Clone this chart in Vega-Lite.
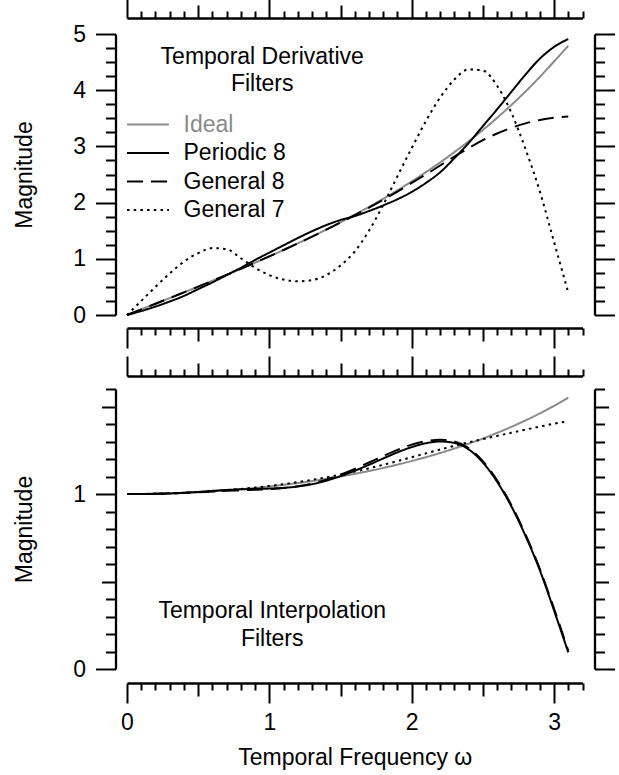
{
  "$schema": "https://vega.github.io/schema/vega-lite/v6.json",
  "background": "white",
  "padding": {"left": 13, "right": 5, "top": -3, "bottom": 5},
  "config": {
    "view": {"stroke": null},
    "font": "Liberation Sans",
    "axis": {
      "grid": false,
      "domainColor": "black", "domainWidth": 2.3,
      "tickColor": "black", "tickWidth": 2,
      "labelColor": "black", "labelFont": "Liberation Sans", "labelFontSize": 23,
      "labelFlush": false, "labelOverlap": false, "labelBound": false, "labelPadding": 8,
      "titleColor": "black", "titleFont": "Liberation Sans", "titleFontSize": 23, "titleFontWeight": "normal"
    }
  },
  "datasets": {
    "top": [
      {"s":"Ideal","w":0,"v":0},{"s":"Ideal","w":0.1,"v":0.1},{"s":"Ideal","w":0.2,"v":0.2},{"s":"Ideal","w":0.3,"v":0.301},{"s":"Ideal","w":0.4,"v":0.403},{"s":"Ideal","w":0.5,"v":0.505},{"s":"Ideal","w":0.6,"v":0.609},{"s":"Ideal","w":0.7,"v":0.715},{"s":"Ideal","w":0.8,"v":0.822},{"s":"Ideal","w":0.9,"v":0.931},{"s":"Ideal","w":1.0,"v":1.043},{"s":"Ideal","w":1.1,"v":1.158},{"s":"Ideal","w":1.2,"v":1.275},{"s":"Ideal","w":1.3,"v":1.395},{"s":"Ideal","w":1.4,"v":1.521},{"s":"Ideal","w":1.5,"v":1.65},{"s":"Ideal","w":1.6,"v":1.784},{"s":"Ideal","w":1.7,"v":1.923},{"s":"Ideal","w":1.8,"v":2.068},{"s":"Ideal","w":1.9,"v":2.219},{"s":"Ideal","w":2.0,"v":2.377},{"s":"Ideal","w":2.1,"v":2.542},{"s":"Ideal","w":2.2,"v":2.715},{"s":"Ideal","w":2.3,"v":2.898},{"s":"Ideal","w":2.4,"v":3.09},{"s":"Ideal","w":2.5,"v":3.293},{"s":"Ideal","w":2.6,"v":3.508},{"s":"Ideal","w":2.7,"v":3.736},{"s":"Ideal","w":2.8,"v":3.978},{"s":"Ideal","w":2.9,"v":4.236},{"s":"Ideal","w":3.0,"v":4.511},{"s":"Ideal","w":3.1,"v":4.79},
      {"s":"Periodic 8","w":0,"v":0},{"s":"Periodic 8","w":0.1,"v":0.07},{"s":"Periodic 8","w":0.2,"v":0.15},{"s":"Periodic 8","w":0.3,"v":0.24},{"s":"Periodic 8","w":0.4,"v":0.34},{"s":"Periodic 8","w":0.5,"v":0.46},{"s":"Periodic 8","w":0.6,"v":0.58},{"s":"Periodic 8","w":0.7,"v":0.71},{"s":"Periodic 8","w":0.8,"v":0.84},{"s":"Periodic 8","w":0.9,"v":0.98},{"s":"Periodic 8","w":1.0,"v":1.11},{"s":"Periodic 8","w":1.1,"v":1.24},{"s":"Periodic 8","w":1.2,"v":1.37},{"s":"Periodic 8","w":1.3,"v":1.49},{"s":"Periodic 8","w":1.4,"v":1.6},{"s":"Periodic 8","w":1.5,"v":1.69},{"s":"Periodic 8","w":1.6,"v":1.76},{"s":"Periodic 8","w":1.7,"v":1.85},{"s":"Periodic 8","w":1.8,"v":1.95},{"s":"Periodic 8","w":1.9,"v":2.06},{"s":"Periodic 8","w":2.0,"v":2.19},{"s":"Periodic 8","w":2.1,"v":2.35},{"s":"Periodic 8","w":2.2,"v":2.54},{"s":"Periodic 8","w":2.3,"v":2.79},{"s":"Periodic 8","w":2.4,"v":3.06},{"s":"Periodic 8","w":2.5,"v":3.36},{"s":"Periodic 8","w":2.6,"v":3.66},{"s":"Periodic 8","w":2.7,"v":3.97},{"s":"Periodic 8","w":2.8,"v":4.28},{"s":"Periodic 8","w":2.9,"v":4.56},{"s":"Periodic 8","w":3.0,"v":4.77},{"s":"Periodic 8","w":3.1,"v":4.91},
      {"s":"General 8","w":0,"v":0},{"s":"General 8","w":0.1,"v":0.1},{"s":"General 8","w":0.2,"v":0.2},{"s":"General 8","w":0.3,"v":0.301},{"s":"General 8","w":0.4,"v":0.403},{"s":"General 8","w":0.5,"v":0.505},{"s":"General 8","w":0.6,"v":0.609},{"s":"General 8","w":0.7,"v":0.715},{"s":"General 8","w":0.8,"v":0.822},{"s":"General 8","w":0.9,"v":0.931},{"s":"General 8","w":1.0,"v":1.043},{"s":"General 8","w":1.1,"v":1.157},{"s":"General 8","w":1.2,"v":1.274},{"s":"General 8","w":1.3,"v":1.393},{"s":"General 8","w":1.4,"v":1.518},{"s":"General 8","w":1.5,"v":1.645},{"s":"General 8","w":1.6,"v":1.776},{"s":"General 8","w":1.7,"v":1.911},{"s":"General 8","w":1.8,"v":2.051},{"s":"General 8","w":1.9,"v":2.195},{"s":"General 8","w":2.0,"v":2.35},{"s":"General 8","w":2.1,"v":2.5},{"s":"General 8","w":2.2,"v":2.66},{"s":"General 8","w":2.3,"v":2.82},{"s":"General 8","w":2.4,"v":2.97},{"s":"General 8","w":2.5,"v":3.11},{"s":"General 8","w":2.6,"v":3.23},{"s":"General 8","w":2.7,"v":3.33},{"s":"General 8","w":2.8,"v":3.41},{"s":"General 8","w":2.9,"v":3.47},{"s":"General 8","w":3.0,"v":3.51},{"s":"General 8","w":3.1,"v":3.53},
      {"s":"General 7","w":0,"v":0},{"s":"General 7","w":0.1,"v":0.25},{"s":"General 7","w":0.2,"v":0.5},{"s":"General 7","w":0.3,"v":0.74},{"s":"General 7","w":0.4,"v":0.95},{"s":"General 7","w":0.5,"v":1.1},{"s":"General 7","w":0.6,"v":1.19},{"s":"General 7","w":0.7,"v":1.17},{"s":"General 7","w":0.8,"v":1.01},{"s":"General 7","w":0.9,"v":0.84},{"s":"General 7","w":1.0,"v":0.71},{"s":"General 7","w":1.1,"v":0.63},{"s":"General 7","w":1.2,"v":0.6},{"s":"General 7","w":1.3,"v":0.62},{"s":"General 7","w":1.4,"v":0.71},{"s":"General 7","w":1.5,"v":0.88},{"s":"General 7","w":1.6,"v":1.13},{"s":"General 7","w":1.7,"v":1.5},{"s":"General 7","w":1.8,"v":1.96},{"s":"General 7","w":1.9,"v":2.47},{"s":"General 7","w":2.0,"v":2.97},{"s":"General 7","w":2.1,"v":3.45},{"s":"General 7","w":2.2,"v":3.87},{"s":"General 7","w":2.3,"v":4.19},{"s":"General 7","w":2.4,"v":4.37},{"s":"General 7","w":2.5,"v":4.35},{"s":"General 7","w":2.6,"v":4.08},{"s":"General 7","w":2.7,"v":3.6},{"s":"General 7","w":2.8,"v":2.95},{"s":"General 7","w":2.9,"v":2.2},{"s":"General 7","w":3.0,"v":1.3},{"s":"General 7","w":3.1,"v":0.4}
    ],
    "bot": [
      {"s":"Ideal","w":0,"v":1.0},{"s":"Ideal","w":0.1,"v":1.0004},{"s":"Ideal","w":0.2,"v":1.0017},{"s":"Ideal","w":0.3,"v":1.0038},{"s":"Ideal","w":0.4,"v":1.0067},{"s":"Ideal","w":0.5,"v":1.0105},{"s":"Ideal","w":0.6,"v":1.0151},{"s":"Ideal","w":0.7,"v":1.0207},{"s":"Ideal","w":0.8,"v":1.0271},{"s":"Ideal","w":0.9,"v":1.0345},{"s":"Ideal","w":1.0,"v":1.0429},{"s":"Ideal","w":1.1,"v":1.0522},{"s":"Ideal","w":1.2,"v":1.0626},{"s":"Ideal","w":1.3,"v":1.074},{"s":"Ideal","w":1.4,"v":1.0866},{"s":"Ideal","w":1.5,"v":1.1003},{"s":"Ideal","w":1.6,"v":1.1152},{"s":"Ideal","w":1.7,"v":1.1314},{"s":"Ideal","w":1.8,"v":1.1489},{"s":"Ideal","w":1.9,"v":1.1678},{"s":"Ideal","w":2.0,"v":1.1884},{"s":"Ideal","w":2.1,"v":1.2104},{"s":"Ideal","w":2.2,"v":1.2343},{"s":"Ideal","w":2.3,"v":1.26},{"s":"Ideal","w":2.4,"v":1.2875},{"s":"Ideal","w":2.5,"v":1.3171},{"s":"Ideal","w":2.6,"v":1.3492},{"s":"Ideal","w":2.7,"v":1.3836},{"s":"Ideal","w":2.8,"v":1.4207},{"s":"Ideal","w":2.9,"v":1.4606},{"s":"Ideal","w":3.0,"v":1.5038},{"s":"Ideal","w":3.1,"v":1.5503},
      {"s":"Periodic 8","w":0,"v":1.0},{"s":"Periodic 8","w":0.1,"v":1.0},{"s":"Periodic 8","w":0.2,"v":1.001},{"s":"Periodic 8","w":0.3,"v":1.003},{"s":"Periodic 8","w":0.4,"v":1.007},{"s":"Periodic 8","w":0.5,"v":1.012},{"s":"Periodic 8","w":0.6,"v":1.018},{"s":"Periodic 8","w":0.7,"v":1.023},{"s":"Periodic 8","w":0.8,"v":1.027},{"s":"Periodic 8","w":0.9,"v":1.029},{"s":"Periodic 8","w":1.0,"v":1.031},{"s":"Periodic 8","w":1.1,"v":1.035},{"s":"Periodic 8","w":1.2,"v":1.043},{"s":"Periodic 8","w":1.3,"v":1.056},{"s":"Periodic 8","w":1.4,"v":1.076},{"s":"Periodic 8","w":1.5,"v":1.102},{"s":"Periodic 8","w":1.6,"v":1.133},{"s":"Periodic 8","w":1.7,"v":1.167},{"s":"Periodic 8","w":1.8,"v":1.203},{"s":"Periodic 8","w":1.9,"v":1.238},{"s":"Periodic 8","w":2.0,"v":1.268},{"s":"Periodic 8","w":2.1,"v":1.29},{"s":"Periodic 8","w":2.2,"v":1.3},{"s":"Periodic 8","w":2.3,"v":1.292},{"s":"Periodic 8","w":2.4,"v":1.255},{"s":"Periodic 8","w":2.5,"v":1.18},{"s":"Periodic 8","w":2.6,"v":1.07},{"s":"Periodic 8","w":2.7,"v":0.93},{"s":"Periodic 8","w":2.8,"v":0.76},{"s":"Periodic 8","w":2.9,"v":0.565},{"s":"Periodic 8","w":3.0,"v":0.335},{"s":"Periodic 8","w":3.1,"v":0.095},
      {"s":"General 8","w":0,"v":1.0},{"s":"General 8","w":0.1,"v":1.0},{"s":"General 8","w":0.2,"v":1.001},{"s":"General 8","w":0.3,"v":1.003},{"s":"General 8","w":0.4,"v":1.006},{"s":"General 8","w":0.5,"v":1.01},{"s":"General 8","w":0.6,"v":1.014},{"s":"General 8","w":0.7,"v":1.018},{"s":"General 8","w":0.8,"v":1.021},{"s":"General 8","w":0.9,"v":1.024},{"s":"General 8","w":1.0,"v":1.028},{"s":"General 8","w":1.1,"v":1.034},{"s":"General 8","w":1.2,"v":1.044},{"s":"General 8","w":1.3,"v":1.06},{"s":"General 8","w":1.4,"v":1.082},{"s":"General 8","w":1.5,"v":1.11},{"s":"General 8","w":1.6,"v":1.143},{"s":"General 8","w":1.7,"v":1.18},{"s":"General 8","w":1.8,"v":1.217},{"s":"General 8","w":1.9,"v":1.252},{"s":"General 8","w":2.0,"v":1.282},{"s":"General 8","w":2.1,"v":1.302},{"s":"General 8","w":2.2,"v":1.31},{"s":"General 8","w":2.3,"v":1.3},{"s":"General 8","w":2.4,"v":1.262},{"s":"General 8","w":2.5,"v":1.188},{"s":"General 8","w":2.6,"v":1.078},{"s":"General 8","w":2.7,"v":0.937},{"s":"General 8","w":2.8,"v":0.768},{"s":"General 8","w":2.9,"v":0.572},{"s":"General 8","w":3.0,"v":0.345},{"s":"General 8","w":3.1,"v":0.105},
      {"s":"General 7","w":0,"v":1.0},{"s":"General 7","w":0.1,"v":1.0},{"s":"General 7","w":0.2,"v":1.002},{"s":"General 7","w":0.3,"v":1.004},{"s":"General 7","w":0.4,"v":1.007},{"s":"General 7","w":0.5,"v":1.011},{"s":"General 7","w":0.6,"v":1.016},{"s":"General 7","w":0.7,"v":1.022},{"s":"General 7","w":0.8,"v":1.029},{"s":"General 7","w":0.9,"v":1.037},{"s":"General 7","w":1.0,"v":1.046},{"s":"General 7","w":1.1,"v":1.056},{"s":"General 7","w":1.2,"v":1.068},{"s":"General 7","w":1.3,"v":1.081},{"s":"General 7","w":1.4,"v":1.095},{"s":"General 7","w":1.5,"v":1.111},{"s":"General 7","w":1.6,"v":1.128},{"s":"General 7","w":1.7,"v":1.147},{"s":"General 7","w":1.8,"v":1.167},{"s":"General 7","w":1.9,"v":1.188},{"s":"General 7","w":2.0,"v":1.21},{"s":"General 7","w":2.1,"v":1.232},{"s":"General 7","w":2.2,"v":1.254},{"s":"General 7","w":2.3,"v":1.275},{"s":"General 7","w":2.4,"v":1.295},{"s":"General 7","w":2.5,"v":1.314},{"s":"General 7","w":2.6,"v":1.332},{"s":"General 7","w":2.7,"v":1.35},{"s":"General 7","w":2.8,"v":1.368},{"s":"General 7","w":2.9,"v":1.385},{"s":"General 7","w":3.0,"v":1.402},{"s":"General 7","w":3.1,"v":1.415}
    ]
  },
  "resolve": {"scale": {"color": "independent", "strokeDash": "independent"}},
  "spacing": 74,
  "bounds": "flush",
  "vconcat": [
    {
      "width": 455.5,
      "height": 281,
      "resolve": {"axis": {"x": "independent", "y": "independent"}},
      "layer": [
        {
          "data": {"name": "top"},
          "mark": {"type": "line", "strokeWidth": 2, "interpolate": "monotone"},
          "encoding": {
            "x": {"field": "w", "type": "quantitative", "scale": {"domain": [0, 3.2], "nice": false, "zero": false},
              "axis": {"orient": "bottom", "offset": 13, "labels": false, "title": null,
                "values": [0,0.1,0.2,0.3,0.4,0.5,0.6,0.7,0.8,0.9,1,1.1,1.2,1.3,1.4,1.5,1.6,1.7,1.8,1.9,2,2.1,2.2,2.3,2.4,2.5,2.6,2.7,2.8,2.9,3,3.1,3.2],
                "tickSize": {"condition": [{"test": "abs(datum.value - round(datum.value)) < 0.001", "value": 20}, {"test": "abs(2*datum.value - round(2*datum.value)) < 0.001", "value": 13}], "value": 7}}},
            "y": {"field": "v", "type": "quantitative", "scale": {"domain": [0, 5], "nice": false, "zero": false},
              "axis": {"orient": "left", "offset": 11.5, "title": "Magnitude", "titlePadding": 36, "labelPadding": 10,
                "values": [0,0.25,0.5,0.75,1,1.25,1.5,1.75,2,2.25,2.5,2.75,3,3.25,3.5,3.75,4,4.25,4.5,4.75,5],
                "labelExpr": "abs(datum.value - round(datum.value)) < 0.001 ? '' + round(datum.value) : ''",
                "tickSize": {"condition": {"test": "abs(datum.value - round(datum.value)) < 0.001", "value": 20}, "value": 10}}},
            "color": {"field": "s", "type": "nominal", "sort": null,
              "scale": {"domain": ["Ideal", "Periodic 8", "General 8", "General 7"], "range": ["#8a8a8a", "black", "black", "black"]},
              "legend": {"title": null, "orient": "none", "legendX": 9.5, "legendY": 79, "padding": 0,
                "symbolType": "M-6,0L6,0", "symbolSize": 49, "symbolStrokeWidth": 2,
                "labelFontSize": 23, "labelFont": "Liberation Sans", "labelOffset": 24, "rowPadding": 4.5,
                "labelColor": {"expr": "datum.label == 'Ideal' ? '#8a8a8a' : 'black'"}}},
            "strokeDash": {"field": "s", "type": "nominal", "sort": null,
              "scale": {"domain": ["Ideal", "Periodic 8", "General 8", "General 7"], "range": [[1, 0], [1, 0], [16, 8], [2.5, 4.2]]},
              "legend": {"title": null, "orient": "none", "legendX": 9.5, "legendY": 79, "padding": 0,
                "symbolType": "M-6,0L6,0", "symbolSize": 49, "symbolStrokeWidth": 2,
                "labelFontSize": 23, "labelFont": "Liberation Sans", "labelOffset": 24, "rowPadding": 4.5,
                "labelColor": {"expr": "datum.label == 'Ideal' ? '#8a8a8a' : 'black'"}}}
          }
        },
        {
          "data": {"name": "top"},
          "mark": {"type": "point", "opacity": 0},
          "encoding": {
            "x": {"field": "w", "type": "quantitative",
              "axis": {"orient": "top", "offset": 16, "labels": false, "title": null,
                "values": [0,0.1,0.2,0.3,0.4,0.5,0.6,0.7,0.8,0.9,1,1.1,1.2,1.3,1.4,1.5,1.6,1.7,1.8,1.9,2,2.1,2.2,2.3,2.4,2.5,2.6,2.7,2.8,2.9,3,3.1,3.2],
                "tickSize": {"condition": [{"test": "abs(datum.value - round(datum.value)) < 0.001", "value": 20}, {"test": "abs(2*datum.value - round(2*datum.value)) < 0.001", "value": 13}], "value": 7}}},
            "y": {"field": "v", "type": "quantitative",
              "axis": {"orient": "right", "offset": 12, "labels": false, "title": null,
                "values": [0,0.25,0.5,0.75,1,1.25,1.5,1.75,2,2.25,2.5,2.75,3,3.25,3.5,3.75,4,4.25,4.5,4.75,5],
                "tickSize": {"condition": {"test": "abs(datum.value - round(datum.value)) < 0.001", "value": 20}, "value": 10}}}
          }
        },
        {
          "data": {"values": [{}]},
          "mark": {"type": "text", "fontSize": 23, "font": "Liberation Sans", "align": "center", "baseline": "alphabetic", "lineHeight": 27, "color": "black"},
          "encoding": {
            "x": {"datum": 0.95, "type": "quantitative", "axis": null},
            "y": {"datum": 4.47, "type": "quantitative", "axis": null},
            "text": {"value": ["Temporal Derivative", "Filters"]}
          }
        }
      ]
    },
    {
      "width": 455.5,
      "height": 280,
      "resolve": {"axis": {"x": "independent", "y": "independent"}},
      "layer": [
        {
          "data": {"name": "bot"},
          "mark": {"type": "line", "strokeWidth": 2, "interpolate": "monotone"},
          "encoding": {
            "x": {"field": "w", "type": "quantitative", "scale": {"domain": [0, 3.2], "nice": false, "zero": false},
              "axis": {"orient": "bottom", "offset": 14, "title": "Temporal Frequency ω", "titlePadding": 12,
                "values": [0,0.1,0.2,0.3,0.4,0.5,0.6,0.7,0.8,0.9,1,1.1,1.2,1.3,1.4,1.5,1.6,1.7,1.8,1.9,2,2.1,2.2,2.3,2.4,2.5,2.6,2.7,2.8,2.9,3,3.1,3.2],
                "labelExpr": "abs(datum.value - round(datum.value)) < 0.001 ? '' + round(datum.value) : ''",
                "tickSize": {"condition": [{"test": "abs(datum.value - round(datum.value)) < 0.001", "value": 20}, {"test": "abs(2*datum.value - round(2*datum.value)) < 0.001", "value": 13}], "value": 7}}},
            "y": {"field": "v", "type": "quantitative", "scale": {"domain": [0, 1.6], "nice": false, "zero": false},
              "axis": {"orient": "left", "offset": 11.5, "title": "Magnitude", "titlePadding": 36, "labelPadding": 10,
                "values": [0,0.1,0.2,0.3,0.4,0.5,0.6,0.7,0.8,0.9,1,1.1,1.2,1.3,1.4,1.5,1.6],
                "labelExpr": "abs(datum.value - round(datum.value)) < 0.001 ? '' + round(datum.value) : ''",
                "tickSize": {"condition": [{"test": "abs(datum.value - round(datum.value)) < 0.001", "value": 20}, {"test": "abs(2*datum.value - round(2*datum.value)) < 0.001", "value": 14}], "value": 10}}},
            "color": {"field": "s", "type": "nominal", "sort": null,
              "scale": {"domain": ["Ideal", "Periodic 8", "General 8", "General 7"], "range": ["#8a8a8a", "black", "black", "black"]},
              "legend": null},
            "strokeDash": {"field": "s", "type": "nominal", "sort": null,
              "scale": {"domain": ["Ideal", "Periodic 8", "General 8", "General 7"], "range": [[1, 0], [1, 0], [16, 8], [2.5, 4.2]]},
              "legend": null}
          }
        },
        {
          "data": {"name": "bot"},
          "mark": {"type": "point", "opacity": 0},
          "encoding": {
            "x": {"field": "w", "type": "quantitative",
              "axis": {"orient": "top", "offset": 13, "labels": false, "title": null,
                "values": [0,0.1,0.2,0.3,0.4,0.5,0.6,0.7,0.8,0.9,1,1.1,1.2,1.3,1.4,1.5,1.6,1.7,1.8,1.9,2,2.1,2.2,2.3,2.4,2.5,2.6,2.7,2.8,2.9,3,3.1,3.2],
                "tickSize": {"condition": [{"test": "abs(datum.value - round(datum.value)) < 0.001", "value": 20}, {"test": "abs(2*datum.value - round(2*datum.value)) < 0.001", "value": 13}], "value": 7}}},
            "y": {"field": "v", "type": "quantitative",
              "axis": {"orient": "right", "offset": 12, "labels": false, "title": null,
                "values": [0,0.1,0.2,0.3,0.4,0.5,0.6,0.7,0.8,0.9,1,1.1,1.2,1.3,1.4,1.5,1.6],
                "tickSize": {"condition": [{"test": "abs(datum.value - round(datum.value)) < 0.001", "value": 20}, {"test": "abs(2*datum.value - round(2*datum.value)) < 0.001", "value": 14}], "value": 10}}}
          }
        },
        {
          "data": {"values": [{}]},
          "mark": {"type": "text", "fontSize": 23, "font": "Liberation Sans", "align": "center", "baseline": "alphabetic", "lineHeight": 28, "color": "black"},
          "encoding": {
            "x": {"datum": 1.02, "type": "quantitative", "axis": null},
            "y": {"datum": 0.29, "type": "quantitative", "axis": null},
            "text": {"value": ["Temporal Interpolation", "Filters"]}
          }
        }
      ]
    }
  ]
}
